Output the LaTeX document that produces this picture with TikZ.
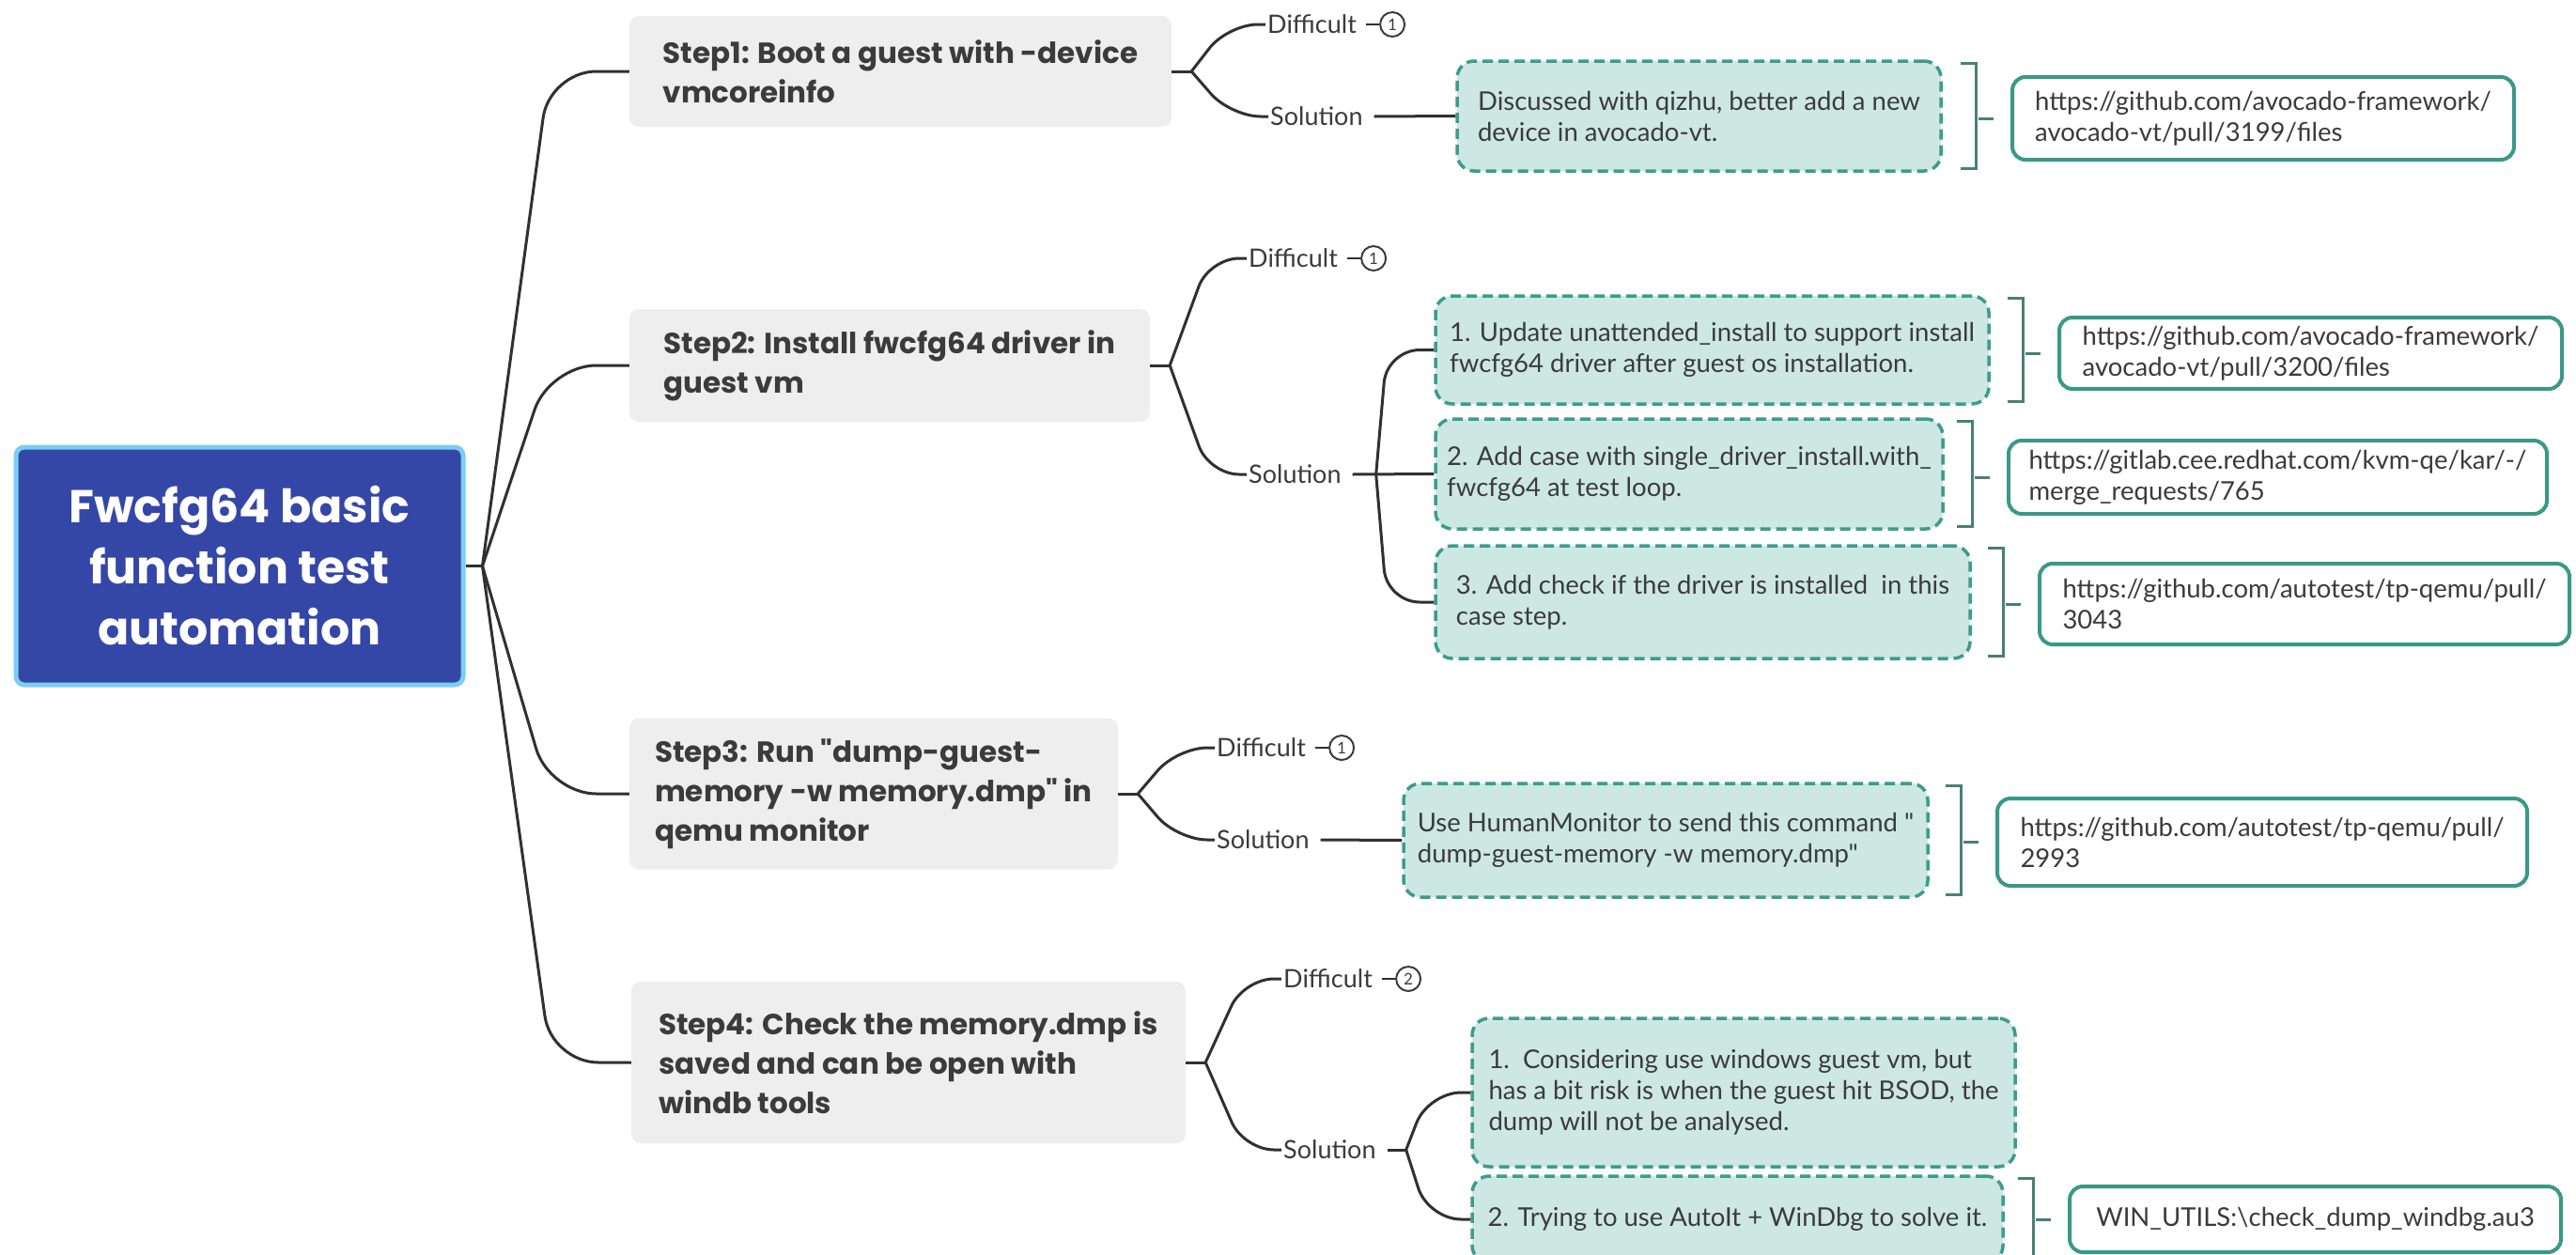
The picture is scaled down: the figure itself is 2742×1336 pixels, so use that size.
\documentclass[tikz,border=0pt]{standalone}
\usepackage{fontspec}
\setmainfont{Lato}
\newfontfamily\plainlato{Lato}
\newfontfamily\titlefont{Poppins}
\usetikzlibrary{calc}
\definecolor{rootblue}{HTML}{3447A7}
\definecolor{rootedge}{HTML}{79CFF2}
\definecolor{stepgray}{HTML}{EEEEEE}
\definecolor{solfill}{HTML}{CDE7E2}
\definecolor{soledge}{HTML}{3C9C8E}
\definecolor{linkedge}{HTML}{3A9889}
\definecolor{brkc}{HTML}{4A7F78}
\definecolor{txt}{HTML}{3B3B3B}
\definecolor{linec}{HTML}{303030}
\begin{document}
\begin{tikzpicture}[x=1pt,y=-1pt,
  rootbox/.style={fill=rootblue, draw=rootedge, line width=5pt, rounded corners=9pt, text=white, align=center, font=\titlefont\bfseries\fontsize{49}{65}\selectfont},
  stepbox/.style={fill=stepgray, rounded corners=10pt, text=txt, align=left, inner xsep=10pt, font=\titlefont\bfseries\fontsize{31}{42}\selectfont},
  solbox/.style={fill=solfill, draw=soledge, line width=3.5pt, dash pattern=on 11pt off 6pt, rounded corners=18pt, text=txt, align=left, inner xsep=8pt, font=\fontsize{27.5}{33}\selectfont},
  linkbox/.style={fill=white, draw=linkedge, line width=4pt, rounded corners=14pt, text=txt, align=left, inner xsep=8pt, font=\fontsize{27.5}{33}\selectfont},
  lbl/.style={anchor=west, inner sep=2pt, text=txt, font=\fontsize{27}{33}\selectfont},
  numc/.style={circle, draw=txt, line width=2pt, inner sep=0pt, minimum size=26pt, anchor=west, text=txt, font=\fontsize{17}{17}\selectfont},
  conn/.style={draw=linec, line width=3pt},
  brk/.style={draw=brkc, line width=3pt}]
\useasboundingbox (0,0) rectangle (2742,1336);
\fill[white] (0,0) rectangle (2742,1336);

% root
\node[rootbox, minimum width=476pt, minimum height=253pt] (root) at (255,602.5) {Fwcfg64 basic\\function test\\automation};

% steps
\node[stepbox, minimum width=577pt, minimum height=118pt] (s1) at (958.5,76) {Step1: Boot a guest with -device\\vmcoreinfo};
\node[stepbox, minimum width=554pt, minimum height=120pt] (s2) at (947,389) {Step2: Install fwcfg64 driver in\\guest vm};
\node[stepbox, minimum width=520pt, minimum height=161pt] (s3) at (930,845) {Step3: Run "dump-guest-\\memory -w memory.dmp" in\\qemu monitor};
\node[stepbox, minimum width=590pt, minimum height=172pt] (s4) at (967,1131) {Step4: Check the memory.dmp is\\saved and can be open with\\windb tools};

% labels
\node[lbl] (d1) at (1347,26) {Difficult};
\node[lbl] (sl1) at (1350,124) {Solution};
\node[lbl] (d2) at (1327,275) {Difficult};
\node[lbl] (sl2) at (1327,505) {Solution};
\node[lbl] (d3) at (1293,796) {Difficult};
\node[lbl] (sl3) at (1293,894) {Solution};
\node[lbl] (d4) at (1364,1042) {Difficult};
\node[lbl] (sl4) at (1364,1224) {Solution};

\node[numc] (c1) at ($(d1.east)+(22,0)$) {1};
\node[numc] (c2) at ($(d2.east)+(22,0)$) {1};
\node[numc] (c3) at ($(d3.east)+(22,0)$) {1};
\node[numc] (c4) at ($(d4.east)+(22,0)$) {2};

% solutions
\node[solbox, minimum width=515pt, minimum height=117pt] (sol1) at (1808.5,123.5) {Discussed with qizhu, better add a new\\device in avocado-vt.};
\node[solbox, minimum width=589pt, minimum height=115pt] (sol21) at (1822.5,372.5) {1. Update unattended\_install to support install\\fwcfg64 driver after guest os installation.};
\node[solbox, minimum width=540pt, minimum height=117pt] (sol22) at (1798,504.5) {2. Add case with single\_driver\_install.with\_\\fwcfg64 at test loop.};
\node[solbox, minimum width=569pt, minimum height=120pt] (sol23) at (1812.5,641) {3. Add check if the driver is installed\ \ in this\\case step.};
\node[solbox, minimum width=558pt, minimum height=121pt, font=\plainlato\fontsize{27.5}{33}\selectfont] (sol3) at (1773,894.5) {Use HumanMonitor to send this command "\\dump-guest-memory -w memory.dmp"};
\node[solbox, minimum width=578pt, minimum height=158pt] (sol41) at (1856,1163) {1.\ \ Considering use windows guest vm, but\\has a bit risk is when the guest hit BSOD, the\\dump will not be analysed.};
\node[solbox, minimum width=565pt, minimum height=92pt] (sol42) at (1849.5,1298) {2. Trying to use AutoIt + WinDbg to solve it.};

% links
\node[linkbox, minimum width=534pt, minimum height=88pt] (l1) at (2409,126) {https://github.com/avocado-framework/\\avocado-vt/pull/3199/files};
\node[linkbox, minimum width=535pt, minimum height=76pt] (l21) at (2459.5,376) {https://github.com/avocado-framework/\\avocado-vt/pull/3200/files};
\node[linkbox, minimum width=573pt, minimum height=78pt] (l22) at (2424.5,508) {https://gitlab.cee.redhat.com/kvm-qe/kar/-/\\merge\_requests/765};
\node[linkbox, minimum width=564pt, minimum height=86pt] (l23) at (2453,643) {https://github.com/autotest/tp-qemu/pull/\\3043};
\node[linkbox, minimum width=564pt, minimum height=93pt] (l3) at (2408,896.5) {https://github.com/autotest/tp-qemu/pull/\\2993};
\node[linkbox, minimum width=523pt, minimum height=70pt] (l42) at (2464.5,1298) {WIN\_UTILS:\textbackslash check\_dump\_windbg.au3};

% root connectors
\coordinate (j0) at ($(root.east)+(18,0)$);
\draw[conn] (root.east) -- (j0);
\foreach \t in {s1,s2,s3,s4}{
  \draw[conn, rounded corners=50pt] (j0) -- ($(\t.west)+(-85,0)$) -- (\t.west);
}

% step connectors
\foreach \t/\j/\d/\sl/\c in {s1/j1/d1/sl1/c1, s2/j2/d2/sl2/c2, s3/j3/d3/sl3/c3, s4/j4/d4/sl4/c4}{
  \coordinate (\j) at ($(\t.east)+(21,0)$);
  \draw[conn] (\t.east) -- (\j);
  \draw[conn, rounded corners=32pt] (\j) -- ($(\d.west)+(-40,0)$) -- (\d.west);
  \draw[conn, rounded corners=32pt] (\j) -- ($(\sl.west)+(-40,0)$) -- (\sl.west);
  \draw[conn, line width=2.5pt] ($(\d.east)+(8,0)$) -- (\c.west);
}

% solution connectors
\draw[conn] ($(sl1.east)+(10,0)$) -- (sol1.west);
\draw[conn] ($(sl3.east)+(10,0)$) -- (sol3.west);
\draw[conn] ($(sl2.east)+(10,0)$) -- (sol22.west);
\coordinate (js2) at ($(sl2.east)+(35,0)$);
\draw[conn, rounded corners=35pt] (js2) -- ($(sol21.west)+(-50,0)$) -- (sol21.west);
\draw[conn, rounded corners=35pt] (js2) -- ($(sol23.west)+(-50,0)$) -- (sol23.west);
\coordinate (js4) at ($(sl4.east)+(30,0)$);
\draw[conn] ($(sl4.east)+(10,0)$) -- (js4);
\draw[conn, rounded corners=35pt] (js4) -- ($(sol41.west)+(-45,0)$) -- (sol41.west);
\draw[conn, rounded corners=35pt] (js4) -- ($(sol42.west)+(-45,0)$) -- (sol42.west);

% brackets
\foreach \s/\l in {sol1/l1, sol21/l21, sol22/l22, sol23/l23, sol3/l3, sol42/l42}{
  \coordinate (bv) at ($(\l.west)+(-37,0)$);
  \draw[brk] ($(bv |- \s.north)+(-16,4)$) -- ($(bv |- \s.north)+(0,4)$) -- ($(bv |- \s.south)+(0,-4)$) -- ($(bv |- \s.south)+(-16,-4)$);
  \draw[brk] ($(bv)+(3,0)$) -- ($(bv)+(19,0)$);
}
\end{tikzpicture}
\end{document}
